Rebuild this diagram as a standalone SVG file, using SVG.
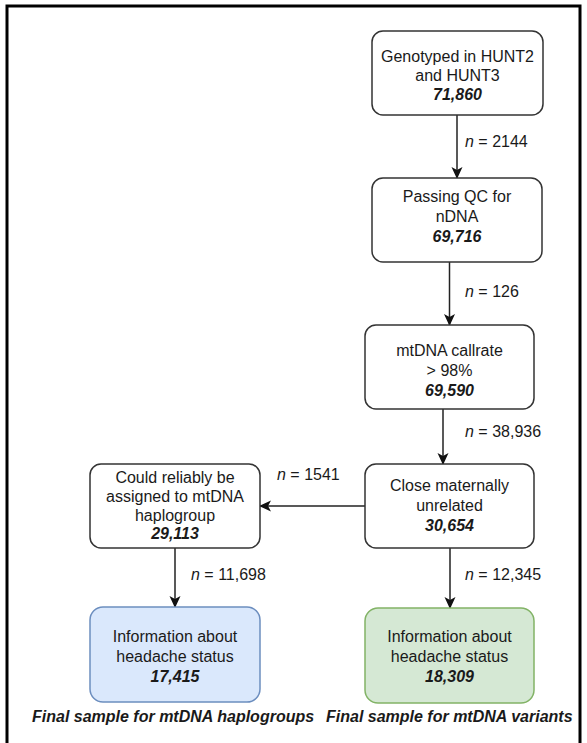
<svg xmlns="http://www.w3.org/2000/svg" width="587" height="743" viewBox="0 0 587 743">
<defs>
<marker id="ah" viewBox="0 0 12 12" refX="11" refY="6" markerWidth="12" markerHeight="12" markerUnits="userSpaceOnUse" orient="auto">
<path d="M0,0.5 L12,6 L0,11.5 L3,6 Z" fill="#111"/>
</marker>
</defs>
<style>
.box{fill:#fff;stroke:#333;stroke-width:1.5}
.blue{fill:#dae8fc;stroke:#6c8ebf;stroke-width:1.5}
.green{fill:#d5e8d4;stroke:#82b366;stroke-width:1.5}
text{font-family:"Liberation Sans",Arial,sans-serif;font-size:16px;fill:#1a1a1a}
.c{text-anchor:middle}
.num{font-weight:bold;font-style:italic}
.cap{font-weight:bold;font-style:italic}
.edge{stroke:#222;stroke-width:1.5;fill:none;marker-end:url(#ah)}
</style>
<rect x="7" y="6" width="573" height="760" fill="#fff" stroke="#000" stroke-width="3"/>
<g id="connectors">
<line class="edge" x1="457" y1="115" x2="457" y2="178"/>
<line class="edge" x1="449.5" y1="262" x2="449.5" y2="325"/>
<line class="edge" x1="443" y1="409" x2="443" y2="464"/>
<line class="edge" x1="365" y1="506" x2="260" y2="506"/>
<line class="edge" x1="175" y1="548" x2="175" y2="607"/>
<line class="edge" x1="450" y1="548" x2="450" y2="608"/>
<text x="465" y="147"><tspan font-style="italic">n</tspan> = 2144</text>
<text x="465" y="297"><tspan font-style="italic">n</tspan> = 126</text>
<text x="465" y="437"><tspan font-style="italic">n</tspan> = 38,936</text>
<text x="277" y="480"><tspan font-style="italic">n</tspan> = 1541</text>
<text x="191" y="580"><tspan font-style="italic">n</tspan> = 11,698</text>
<text x="465" y="580"><tspan font-style="italic">n</tspan> = 12,345</text>
</g>
<g id="n1">
<rect class="box" x="372" y="31" width="171" height="84" rx="11"/>
<text class="c" x="457.5" y="62">Genotyped in HUNT2</text>
<text class="c" x="457.5" y="81">and HUNT3</text>
<text class="c num" x="457.5" y="100">71,860</text>
</g>
<g id="n2">
<rect class="box" x="372" y="178" width="170" height="84" rx="11"/>
<text class="c" x="457" y="202">Passing QC for</text>
<text class="c" x="457" y="222">nDNA</text>
<text class="c num" x="457" y="242">69,716</text>
</g>
<g id="n3">
<rect class="box" x="365" y="325" width="169" height="84" rx="11"/>
<text class="c" x="449.5" y="356">mtDNA callrate</text>
<text class="c" x="449.5" y="376">&gt; 98%</text>
<text class="c num" x="449.5" y="396">69,590</text>
</g>
<g id="n4">
<rect class="box" x="365" y="464" width="169" height="84" rx="11"/>
<text class="c" x="449.5" y="491">Close maternally</text>
<text class="c" x="449.5" y="511">unrelated</text>
<text class="c num" x="449.5" y="531">30,654</text>
</g>
<g id="n5">
<rect class="box" x="90" y="464" width="170" height="84" rx="11"/>
<text class="c" x="175" y="483">Could reliably be</text>
<text class="c" x="175" y="501.5">assigned to mtDNA</text>
<text class="c" x="175" y="520.5">haplogroup</text>
<text class="c num" x="175" y="539">29,113</text>
</g>
<g id="n6">
<rect class="blue" x="90" y="607" width="170" height="95" rx="13"/>
<text class="c" x="175" y="642">Information about</text>
<text class="c" x="175" y="662">headache status</text>
<text class="c num" x="175" y="682">17,415</text>
</g>
<g id="n7">
<rect class="green" x="365" y="608" width="169" height="95" rx="13"/>
<text class="c" x="449.5" y="642">Information about</text>
<text class="c" x="449.5" y="662">headache status</text>
<text class="c num" x="449.5" y="682">18,309</text>
</g>
<g id="captions">
<text class="cap" x="32" y="722">Final sample for mtDNA haplogroups</text>
<text class="cap" x="326" y="722">Final sample for mtDNA variants</text>
</g>
</svg>
